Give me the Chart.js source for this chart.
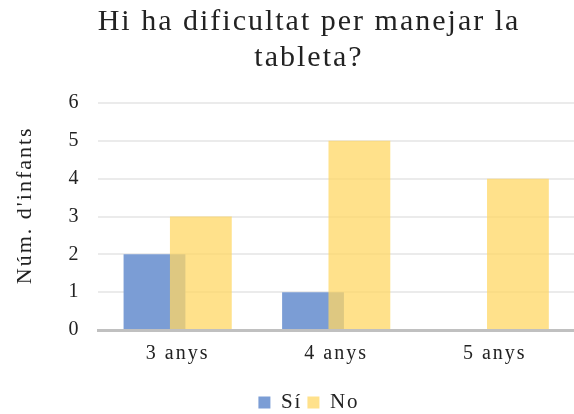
<!DOCTYPE html>
<html>
<head>
<meta charset="utf-8">
<script src="https://cdn.jsdelivr.net/npm/chart.js@4"></script>
<style>
  html, body { margin: 0; padding: 0; background: #fff; }
  #wrap { width: 574px; height: 414px; }
</style>
</head>
<body>
<div id="wrap"><canvas id="grafic"></canvas></div>
<script>
const categories = ['3 anys', '4 anys', '5 anys'];
const valorsSi = [2, 1, 0];
const valorsNo = [3, 5, 4];
const ticksY = [0, 1, 2, 3, 4, 5, 6];

const FONT = '"Liberation Serif", "Times New Roman", serif';

// espaiat de lletres com a l'original, i la sèrie "No" per sobre de "Sí"
const estilPlugin = {
    id: 'estil',
    beforeLayout(chart) { chart.ctx.letterSpacing = '2px'; },
    afterLayout(chart) {
        if (chart.titleBlock) {
            chart.titleBlock.left += 18;
            chart.titleBlock.right += 18;
        }
        if (chart.legend) {
            chart.legend.left += 18;
            chart.legend.right += 18;
            chart.legend.top += 9;
            chart.legend.bottom += 9;
        }
    },
    beforeDraw(chart) { chart.ctx.letterSpacing = '2px'; },
    beforeDatasetDraw(chart, args) {
        if (args.index === 1) return false;
    },
    afterDatasetsDraw(chart) {
        chart.getDatasetMeta(1).controller.draw();
    }
};

const ctx = document.getElementById('grafic').getContext('2d');
new Chart(ctx, {
    type: 'bar',
    data: {
        labels: categories,
        datasets: [
            {
                label: 'Sí',
                data: valorsSi,
                backgroundColor: 'rgba(123, 157, 213, 1)',
                categoryPercentage: 0.585,
                barPercentage: 1.333
            },
            {
                label: 'No',
                data: valorsNo,
                backgroundColor: 'rgba(255, 215, 100, 0.75)',
                categoryPercentage: 0.585,
                barPercentage: 1.333
            }
        ]
    },
    options: {
        responsive: true,
        maintainAspectRatio: false,
        animation: false,
        layout: { padding: { left: 8, right: 0, top: 4, bottom: 0 } },
        scales: {
            x: {
                grid: { display: false, drawTicks: false },
                border: { color: '#c0c0c0', width: 3 },
                ticks: { color: '#222', font: { family: FONT, size: 20 }, padding: 12 }
            },
            y: {
                min: 0,
                max: 6,
                afterBuildTicks: axis => { axis.ticks = ticksY.map(v => ({ value: v })); },
                grid: { color: '#ebebeb', lineWidth: 2, drawTicks: false },
                border: { display: false },
                ticks: { color: '#222', font: { family: FONT, size: 20 }, padding: 18 },
                title: {
                    display: true,
                    text: "   Núm. d'infants",
                    color: '#222',
                    font: { family: FONT, size: 22 },
                    padding: { bottom: 12 }
                }
            }
        },
        plugins: {
            title: {
                display: true,
                text: ['Hi ha dificultat per manejar la', 'tableta?'],
                color: '#222',
                font: { family: FONT, size: 30, weight: 'normal' },
                lineHeight: 1.0,
                padding: { top: 0, bottom: 27 }
            },
            legend: {
                position: 'bottom',
                labels: {
                    color: '#222',
                    font: { family: FONT, size: 21 },
                    boxWidth: 12,
                    boxHeight: 12,
                    padding: 5
                }
            },
            tooltip: { enabled: false }
        }
    },
    plugins: [estilPlugin]
});
</script>
</body>
</html>
